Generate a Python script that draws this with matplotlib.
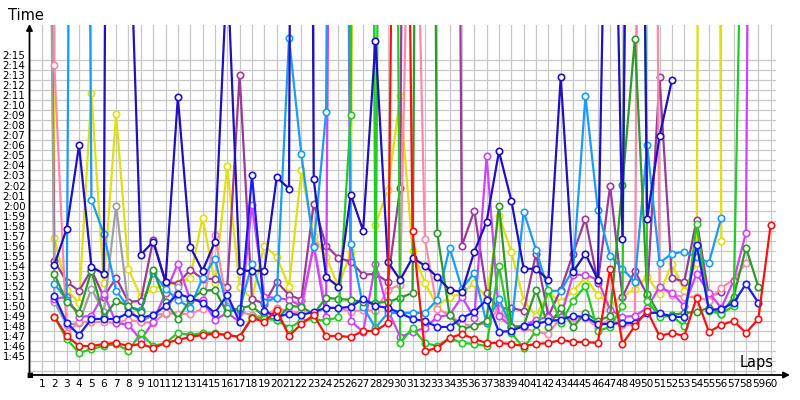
import matplotlib
matplotlib.use('Agg')
import matplotlib.pyplot as plt
import numpy as np

nan = np.nan

# lap times in seconds per driver (nan = no time shown for that lap)
red = [nan, 108.9, 107.0, 106.0, 106.0, 106.2, 106.3, 106.0, 106.2, 105.8,
       106.3, 106.6, 106.9, 107.1, 107.2, 107.1, 106.9, 108.8, 108.4, 109.6,
       107.0, 108.2, 109.1, 107.0, 107.0, 106.9, 107.5, 107.5, 108.3, 225,
       117.5, 105.5, 105.8, 106.8, 107.2, 106.7, 106.3, 106.3, 106.2, 106.0,
       106.2, 106.3, 106.6, 106.4, 106.4, 106.3, 113.7, 106.2, 108.0, 109.5,
       107.0, 107.3, 107.0, 110.8, 107.4, 108.1, 108.5, 107.3, 108.7, 118.1]
green = [nan, 108.9, 106.7, 105.3, 105.7, 106.0, 106.2, 105.5, 107.3, 106.0,
         106.3, 107.3, 107.1, 107.3, 107.3, 107.1, 106.9, 108.9, 108.7, 108.6,
         107.8, 108.5, 108.7, 108.5, 108.9, 129.0, 400, 107.5, 300, 106.3,
         107.8, 106.3, 106.0, 106.8, 106.3, 106.2, 106.0, 114.0, 107.3, 105.8,
         107.5, 111.6, 108.3, 110.5, 112.0, 107.5, 107.9, 110.0, 300, 110.5,
         108.9, 109.0, 108.0, 118.2, 109.5, 109.2, 110.0, 175]
dark_green = [nan, 113.2, 110.4, 109.3, 113.5, 108.9, 110.5, 110.0, 109.4, 113.6,
              110.4, 108.7, 110.6, 111.5, 111.6, 109.3, 109.8, 110.0, 108.9, 108.6,
              110.0, 109.9, 109.2, 110.8, 110.7, 110.6, 110.4, 110.3, 110.4, 110.8,
              111.3, 300, 117.3, 109.1, 107.7, 108.0, 108.5, 120.0, 107.9, 108.0,
              111.6, 107.9, 109.8, 107.9, 109.3, 108.5, 109.0, 122.1, 136.6, 111.2,
              109.1, 109.1, 109.3, 109.4, 109.8, 109.2, 110.9, 115.8, 111.9]
navy = [nan, 114.1, 117.7, 126.0, 113.9, 113.2, 370, 153, 115.1, 116.4,
        112.4, 130.8, 115.9, 113.5, 116.4, 144, 113.5, 113.5, 113.5, 122.8,
        121.7, 400, 122.6, 112.9, 111.9, 121.1, 117.5, 136.4, 114.4, 112.6,
        114.8, 114.0, 112.9, 111.6, 111.4, 115.4, 118.4, 125.4, 120.5, 113.7,
        113.7, 112.6, 132.8, 113.4, 115.2, 112.6, 180, 116.7, 232, 118.7,
        126.9, 132.5]
blue = [nan, 111.0, 108.3, 107.1, 108.7, 108.7, 108.7, 109.3, 108.8, 109.1,
        110.0, 111.2, 110.8, 110.3, 109.3, 111.1, 108.4, 123.0, 109.5, 108.9,
        109.2, 109.1, 109.4, 109.8, 109.8, 109.9, 110.7, 110.0, 109.8, 109.3,
        108.7, 108.5, 107.9, 107.9, 108.8, 109.4, 110.6, 107.4, 107.5, 108.0,
        108.2, 108.5, 108.6, 109.0, 108.9, 108.2, 108.2, 108.3, 108.3, 109.3,
        109.3, 108.9, 108.9, 116.1, 109.6, 109.7, 110.3, 112.2, 110.3]
light_blue = [nan, 112.2, 110.6, 300, 120.6, 117.2, 111.5, 109.9, 109.6, 113.3,
              111.7, 110.6, 109.8, 112.8, 114.7, 109.8, 109.6, 114.2, 110.4, 110.8,
              136.7, 125.1, 115.9, 129.3, 300, 116.2, 109.9, 107.8, 109.3, 109.3,
              109.3, 109.3, 110.6, 115.8, 111.7, 113.3, 108.3, 110.7, 107.9, 119.4,
              115.6, 111.5, 111.5, 113.6, 130.9, 119.6, 115.0, 113.7, 112.4, 126.0,
              114.3, 115.2, 115.4, 114.9, 114.3, 118.8]
yellow = [600, 116.8, 111.6, 110.3, 131.2, 112.3, 129.1, 113.7, 110.9, 111.7,
          112.1, 112.3, 112.8, 118.8, 112.3, 123.9, 111.9, 110.7, 116.0, 114.9,
          111.9, 123.5, 117.0, 114.9, 111.9, 115.4, 400, 118.1, 121.6, 130.9,
          115.5, 112.3, 110.0, 110.9, 111.2, 112.3, 110.8, 119.0, 115.4, 110.5,
          109.0, 111.3, 110.4, 111.5, 112.8, 111.1, 110.2, 110.9, 111.7, 112.9,
          111.2, 114.2, 111.5, 114.3, 400, 116.5]
purple = [240, 114.5, 112.4, 111.5, 113.6, 110.9, 112.8, 110.4, 110.5, 116.6,
          112.4, 112.2, 113.6, 112.7, 112.7, 111.9, 133.0, 110.7, 110.2, 112.4,
          111.1, 110.6, 120.2, 116.0, 114.8, 114.4, 113.1, 113.2, 112.4, 121.8,
          300, 300, 300, 300, 116.0, 119.5, 111.3, 109.7, 109.8, 109.5,
          115.2, 109.0, 111.6, 115.2, 118.7, 112.3, 122.0, 110.9, 113.5, 111.1,
          132.8, 112.8, 112.4, 118.6, 110.9, 111.4]
violet = [nan, 110.7, 110.9, 108.9, 109.0, 111.2, 108.3, 108.1, 106.6, 108.4,
          111.3, 114.2, 110.6, 110.6, 108.6, 109.3, 108.4, 120.1, 110.9, 110.8,
          110.6, 110.0, 116.0, 108.9, 300, 108.5, 107.4, 114.2, 109.6, 106.9,
          107.4, 107.8, 108.9, 109.1, 110.9, 108.8, 124.9, 109.0, 107.9, 108.0,
          108.6, 108.9, 108.9, 113.1, 113.1, 112.6, 109.6, 108.9, 109.0, 109.8,
          111.9, 111.3, 110.0, 113.2, 111.3, 109.8, 112.5, 117.3, 300]
pink = [900, 134.0, 107.3, 108.4, 108.4, 108.4, 108.3, 108.6, 108.4, 108.3,
        109.3, 109.2, 109.2, 109.7, 117.1, 110.0, 109.4, 109.1, 108.9, 109.8,
        109.4, 109.4, 116.1, 109.8, 109.8, 109.4, 109.6, 109.5, 111.6, 112.1,
        172, 116.7, 109.7, 109.1, 108.2, 108.0, 108.3, 109.7, 108.0, 107.8,
        107.4, 107.2, 108.9, 108.8, 108.8, 107.8, 108.7, 108.1, 108.1, 300,
        111.9, 111.1, 110.9, 110.9, 110.5, 111.8, 112.6, 114.3]
gray = [240, 110.4, 108.1, 108.3, 111.7, 109.4, 120.0, 109.8, 108.4, 109.1,
        109.2, 111.9]

series = [
    (yellow, '#e0e010'),
    (purple, '#9a3a9a'),
    (gray, '#a0a0a0'),
    (pink, '#ff88aa'),
    (violet, '#cc44ff'),
    (light_blue, '#1a9cff'),
    (dark_green, '#2e9a2e'),
    (green, '#22cc22'),
    (blue, '#1a1aff'),
    (navy, '#2010c0'),
    (red, '#ff1010'),
]

y_labels = ['1:45', '1:46', '1:47', '1:48', '1:49', '1:50', '1:51', '1:52',
            '1:53', '1:54', '1:55', '1:56', '1:57', '1:58', '1:59', '2:00',
            '2:01', '2:02', '2:03', '2:04', '2:05', '2:06', '2:07', '2:08',
            '2:09', '2:10', '2:11', '2:12', '2:13', '2:14', '2:15']

fig = plt.figure(figsize=(8, 4), dpi=100)
ax = fig.add_axes([29.65 / 800, 25 / 400, (776 - 29.65) / 800, 350 / 400])
ax.set_xlim(0, 60.43)
ax.set_ylim(103.11, 138.0)

# grid: vertical at every lap, horizontal only over the labelled range
for lap in range(1, 61):
    ax.axvline(lap, color='#c8c8c8', lw=0.9, zorder=0)
for t in np.arange(103.5, 135, 1.0):
    ax.axhline(t, color='#c8c8c8', lw=0.9, zorder=0)

for vals, col in series:
    x = np.arange(1, len(vals) + 1)
    ax.plot(x, vals, color=col, lw=1.6, marker='o', ms=4.6, mfc='white',
            mec=col, mew=1.2, zorder=2)

ax.set_xticks(range(1, 61))
ax.set_xticklabels([str(i) for i in range(1, 61)], fontsize=7.6)
ax.set_yticks(np.arange(105, 136))
ax.set_yticklabels(y_labels, fontsize=7.4)
ax.tick_params(length=0, pad=3, colors='black')
for s in ax.spines.values():
    s.set_visible(False)

# axes with arrow heads
ax.annotate('', xy=(790 / 800, 25 / 400), xytext=(29.5 / 800, 25 / 400),
            xycoords='figure fraction',
            arrowprops=dict(arrowstyle='-|>', color='black', lw=1.3,
                            mutation_scale=9, shrinkA=0, shrinkB=0))
ax.annotate('', xy=(29.5 / 800, 376 / 400), xytext=(29.5 / 800, 25 / 400),
            xycoords='figure fraction',
            arrowprops=dict(arrowstyle='-|>', color='black', lw=1.3,
                            mutation_scale=9, shrinkA=0, shrinkB=0))
fig.text(29.5 / 800, 25 / 400, '\u25a0', fontsize=5, ha='center', va='center')

fig.text(8 / 800, 1 - 15 / 400, 'Time', fontsize=10.5, va='center')
fig.text(774 / 800, 1 - 363 / 400, 'Laps', fontsize=10.5, va='center', ha='right')

fig.savefig('out.png', dpi=100)
